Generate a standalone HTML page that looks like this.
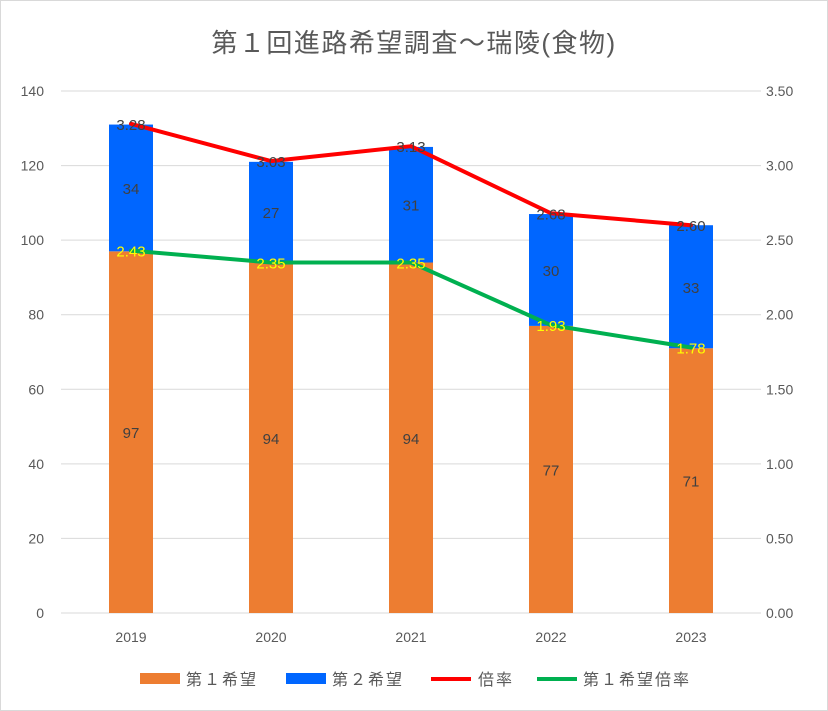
<!DOCTYPE html>
<html><head><meta charset="utf-8"><style>
body{margin:0;background:#fff}
svg{display:block;font-family:"Liberation Sans","Noto Sans CJK JP",sans-serif}
</style></head><body>
<svg id="c" width="828" height="711">
<rect x="0.5" y="0.5" width="827" height="710" fill="#fff" stroke="#d9d9d9"/>
<text x="414" y="52" text-anchor="middle" font-size="26" letter-spacing="1.5" fill="#595959">第１回進路希望調査～瑞陵(食物)</text>
<g id="grid"></g><g id="bars"></g><g id="lines"></g><g id="labels"></g><g id="axes"></g>
<g font-size="16" letter-spacing="2" fill="#595959">
<rect x="140" y="673" width="40" height="11" fill="#ed7d31"/>
<text x="186" y="685">第１希望</text>
<rect x="286" y="673" width="40" height="11" fill="#0066ff"/>
<text x="332" y="685">第２希望</text>
<line x1="431" y1="679" x2="471" y2="679" stroke="#ff0000" stroke-width="4"/>
<text x="478" y="685">倍率</text>
<line x1="537" y1="679" x2="577" y2="679" stroke="#00b050" stroke-width="4"/>
<text x="583" y="685">第１希望倍率</text>
</g>
</svg>
<script>
const categories=["2019","2020","2021","2022","2023"];
const first=[97,94,94,77,71];
const second=[34,27,31,30,33];
const ratio=[3.28,3.03,3.13,2.68,2.60];
const firstRatio=[2.43,2.35,2.35,1.93,1.78];
const leftTicks=[0,20,40,60,80,100,120,140];
const rightTicks=["0.00","0.50","1.00","1.50","2.00","2.50","3.00","3.50"];
const NS="http://www.w3.org/2000/svg";
const X0=61,X1=761,Y0=613,Y1=91;
const xc=i=>X0+(X1-X0)/categories.length*(i+0.5);
const yL=v=>Y0-(v/140)*(Y0-Y1);
const yR=v=>Y0-(v/3.5)*(Y0-Y1);
function mk(p,tag,a){const e=document.createElementNS(NS,tag);for(const k in a)e.setAttribute(k,a[k]);document.getElementById(p).appendChild(e);return e;}
leftTicks.forEach((t,i)=>{
 const g=mk("grid","line",{x1:X0,x2:X1,y1:yL(t),y2:yL(t),stroke:"#d9d9d9","stroke-width":1});
 
 
 const l=mk("axes","text",{x:44,y:yL(t)+5,"text-anchor":"end","font-size":14,fill:"#595959"});l.textContent=t;
 
 
 const r=mk("axes","text",{x:766,y:yR(i*0.5)+5,"font-size":14,fill:"#595959"});r.textContent=rightTicks[i];
 
 
});
const BW=44;
categories.forEach((c,i)=>{
 const x=xc(i);
 const b1=mk("bars","rect",{x:x-BW/2,y:yL(first[i]),width:BW,height:yL(0)-yL(first[i]),fill:"#ed7d31"});
 
 
 const b2=mk("bars","rect",{x:x-BW/2,y:yL(first[i]+second[i]),width:BW,height:yL(first[i])-yL(first[i]+second[i]),fill:"#0066ff"});
 
 
 const t1=mk("labels","text",{x:x,y:yL(first[i]/2)+6,"text-anchor":"middle","font-size":15,fill:"#404040"});t1.textContent=first[i];
 
 
 const t2=mk("labels","text",{x:x,y:yL(first[i]+second[i]/2)+6,"text-anchor":"middle","font-size":15,fill:"#404040"});t2.textContent=second[i];
 
 
 const t3=mk("labels","text",{x:x,y:yR(ratio[i])+6,"text-anchor":"middle","font-size":15,fill:"#404040"});t3.textContent=ratio[i].toFixed(2);
 
 
 const t4=mk("labels","text",{x:x,y:yR(firstRatio[i])+6,"text-anchor":"middle","font-size":15,fill:"#ffff00"});t4.textContent=firstRatio[i].toFixed(2);
 
 
 const cx=mk("axes","text",{x:x,y:642,"text-anchor":"middle","font-size":14,fill:"#595959"});cx.textContent=c;
 
 
});
const l1=mk("lines","polyline",{points:ratio.map((v,i)=>xc(i)+","+yR(v)).join(" "),fill:"none",stroke:"#ff0000","stroke-width":4,"stroke-linejoin":"round","stroke-linecap":"round"});


const l2=mk("lines","polyline",{points:firstRatio.map((v,i)=>xc(i)+","+yR(v)).join(" "),fill:"none",stroke:"#00b050","stroke-width":4,"stroke-linejoin":"round","stroke-linecap":"round"});


</script>
</body></html>
